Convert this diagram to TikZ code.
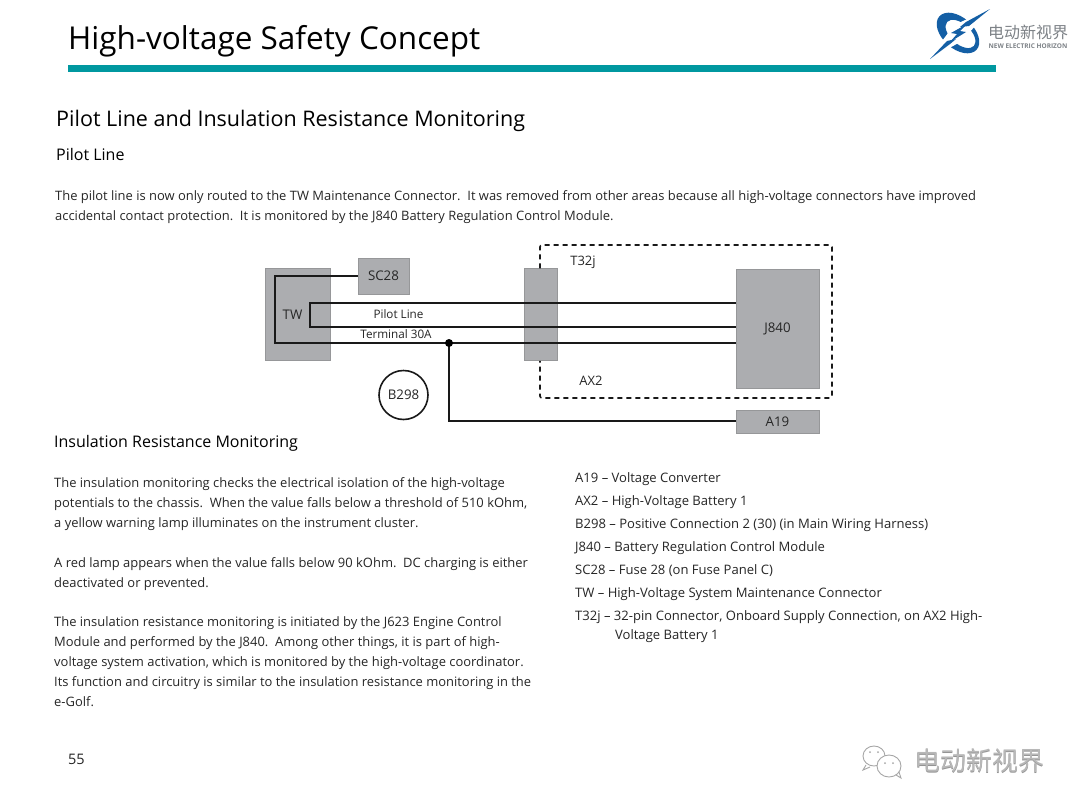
\documentclass[tikz,border=0pt]{standalone}
\usepackage{fontspec}
\setmainfont{Open Sans}
\newfontfamily\cjk{Noto Sans CJK SC}
\usetikzlibrary{calc}
\definecolor{boxgrey}{RGB}{172,173,176}
\definecolor{boxedge}{RGB}{150,151,153}
\definecolor{inkc}{RGB}{38,38,38}
\definecolor{teal1}{RGB}{0,152,160}
\definecolor{logoblue}{RGB}{20,95,165}
\definecolor{logogrey}{RGB}{125,130,135}
\tikzset{
  x=1pt,y=-1pt,
  greybox/.style={draw=boxedge,line width=1pt,fill=boxgrey,inner sep=0pt,text=inkc,font=\fontsize{13.3}{14}\selectfont},
  wire/.style={line width=2pt,draw=black!90},
  body/.style={anchor=base west,inner sep=0pt,text=inkc,font=\fontsize{12.95}{14}\selectfont},
  legend/.style={body,font=\fontsize{13.05}{14}\selectfont},
  lbl/.style={inner sep=0pt,text=inkc,font=\fontsize{11.7}{13}\selectfont},
  dashbox/.style={line width=1.6pt,dash pattern=on 5pt off 4pt,draw=black!90},
}
\begin{document}
\begin{tikzpicture}
\useasboundingbox (0,0) rectangle (1080,809);
\fill[white] (0,0) rectangle (1080,809);
% header
\node[body,font=\fontsize{31.5}{36}\selectfont,text=black] (title) at (68,49) {High-voltage Safety Concept};
\fill[teal1] (68,65) rectangle (996,72);
% logo
\begin{scope}[shift={(958,33)}]
\fill[logoblue,even odd rule,rotate=-42] (0,0) ellipse (25 and 15.5) (2.5,-1) ellipse (18 and 10);
\fill[white] (32,-24) -- (-4,-8) -- (-30,27) -- (4,8) -- cycle;
\fill[logoblue] (32,-24) -- (8,-11) -- (2,-6) -- (11,-7) -- cycle;
\fill[logoblue] (-28,26) -- (-8,11) -- (-2,6) -- (-11,8) -- cycle;
\fill[logoblue] (9,-9) -- (-7,0) -- (-1,1) -- (-8,9) -- (8,-1) -- (2,-2) -- cycle;
\end{scope}
\node[inner sep=0pt,text=logogrey,font=\cjk\fontsize{16}{17}\selectfont] (logotext) at (1028,32) {电动新视界};
\node[inner sep=0pt,text=logogrey,font=\bfseries\fontsize{6.5}{7}\selectfont] (logosub) at (1028,46) {NEW ELECTRIC HORIZON};
% headings
\node[body,font=\fontsize{21.5}{24}\selectfont,text=black] (h1) at (56,126) {Pilot Line and Insulation Resistance Monitoring};
\node[body,font=\fontsize{16}{17}\selectfont,text=black] (h2) at (56,160) {Pilot Line};
\node[body] (p1) at (55,200) {The pilot line is now only routed to the TW Maintenance Connector.\ \ It was removed from other areas because all high-voltage connectors have improved};
\node[body] (p2) at (55,220) {accidental contact protection.\ \ It is monitored by the J840 Battery Regulation Control Module.};
% diagram boxes
\node[greybox,minimum width=65pt,minimum height=91.5pt] (TWbox) at (297.5,314.5) {};
\node[lbl,font=\fontsize{13.3}{14}\selectfont] (TW) at (292.5,314.5) {TW};
\node[greybox,minimum width=51pt,minimum height=36pt] (SC) at (383.5,276) {SC28};
\node[greybox,minimum width=32.5pt,minimum height=91.5pt] (T) at (540.75,314.5) {};
\node[greybox,minimum width=83pt,minimum height=119pt] (J) at (777.5,328.5) {J840};
\node[greybox,minimum width=83pt,minimum height=23pt] (A) at (777.5,421.5) {A19};
\node[draw=black!90,line width=1.6pt,circle,minimum size=49pt,inner sep=0pt,text=inkc,font=\fontsize{13.3}{14}\selectfont] (B) at (403.5,395) {B298};
% dashed housing
\coordinate (tA) at (540,269);
\coordinate (tB) at (540,360);
\draw[dashbox,rounded corners=2pt] (T.north-|tA) -- (540,245) -- (832,245) -- (832,398) -- (540,398) -- (T.south-|tB);
% wires
\coordinate (c1) at (275,276);
\coordinate (c2) at (275,343);
\coordinate (c3) at (310,303);
\coordinate (c4) at (310,327);
\coordinate (dot) at (449,343);
\coordinate (c5) at (449,421);
\draw[wire] (SC.west|-c1) -- (c1) -- (c2) -- (dot) -- (J.west|-dot);
\draw[wire] (J.west|-c3) -- (c3) -- (c4) -- (J.west|-c4);
\draw[wire] (dot) -- (c5) -- (A.west|-c5);
\fill[black] (dot) circle (4);
\node[lbl] (pl) at (398.5,314.5) {Pilot Line};
\node[lbl] (t30) at (396,334.5) {Terminal 30A};
\node[lbl,font=\fontsize{13}{14}\selectfont] (t32) at (583,262) {T32j};
\node[lbl,font=\fontsize{13}{14}\selectfont] (ax2) at (591,381) {AX2};
% left text
\node[body,font=\fontsize{16}{17}\selectfont,text=black] (h3) at (54,447) {Insulation Resistance Monitoring};
\node[body] (a1) at (54,487.5) {The insulation monitoring checks the electrical isolation of the high-voltage};
\node[body] (a2) at (54,507.5) {potentials to the chassis.\ \ When the value falls below a threshold of 510 kOhm,};
\node[body] (a3) at (54,527.5) {a yellow warning lamp illuminates on the instrument cluster.};
\node[body] (b1) at (54,567) {A red lamp appears when the value falls below 90 kOhm.\ \ DC charging is either};
\node[body] (b2) at (54,587) {deactivated or prevented.};
\node[body] (c1t) at (54,626.5) {The insulation resistance monitoring is initiated by the J623 Engine Control};
\node[body] (c2t) at (54,646.5) {Module and performed by the J840.\ \ Among other things, it is part of high-};
\node[body] (c3t) at (54,666.5) {voltage system activation, which is monitored by the high-voltage coordinator.};
\node[body] (c4t) at (54,686.5) {Its function and circuitry is similar to the insulation resistance monitoring in the};
\node[body] (c5t) at (54,706.5) {e-Golf.};
% legend
\node[legend] (l1) at (575,482) {A19 – Voltage Converter};
\node[legend] (l2) at (575,505) {AX2 – High-Voltage Battery 1};
\node[legend] (l3) at (575,528) {B298 – Positive Connection 2 (30) (in Main Wiring Harness)};
\node[legend] (l4) at (575,551) {J840 – Battery Regulation Control Module};
\node[legend] (l5) at (575,574) {SC28 – Fuse 28 (on Fuse Panel C)};
\node[legend] (l6) at (575,597) {TW – High-Voltage System Maintenance Connector};
\node[legend] (l7) at (575,620) {T32j – 32-pin Connector, Onboard Supply Connection, on AX2 High-};
\node[legend] (l8) at (615,639.5) {Voltage Battery 1};
\node[body,font=\fontsize{14.5}{16}\selectfont] (page) at (68,764) {55};
% watermark
\begin{scope}[draw=black!35,fill=white,line width=0.9pt]
\draw (874,756) ellipse (11 and 10);
\draw (866,765) -- (863,770) -- (870,767);
\filldraw (889,766) ellipse (12 and 11);
\draw (896,775) -- (901,778) -- (899,772);
\fill[black!35] (870,752) circle (1) (878,752) circle (1) (885,763) circle (1) (893,763) circle (1);
\end{scope}
\node[inner sep=0pt,text=black!42,font=\cjk\fontsize{26}{28}\selectfont] (wmshadow) at (979.5,761.5) {电动新视界};
\node[inner sep=0pt,text=black!28,font=\cjk\fontsize{26}{28}\selectfont] (wm) at (979,761) {电动新视界};
\end{tikzpicture}
\end{document}
